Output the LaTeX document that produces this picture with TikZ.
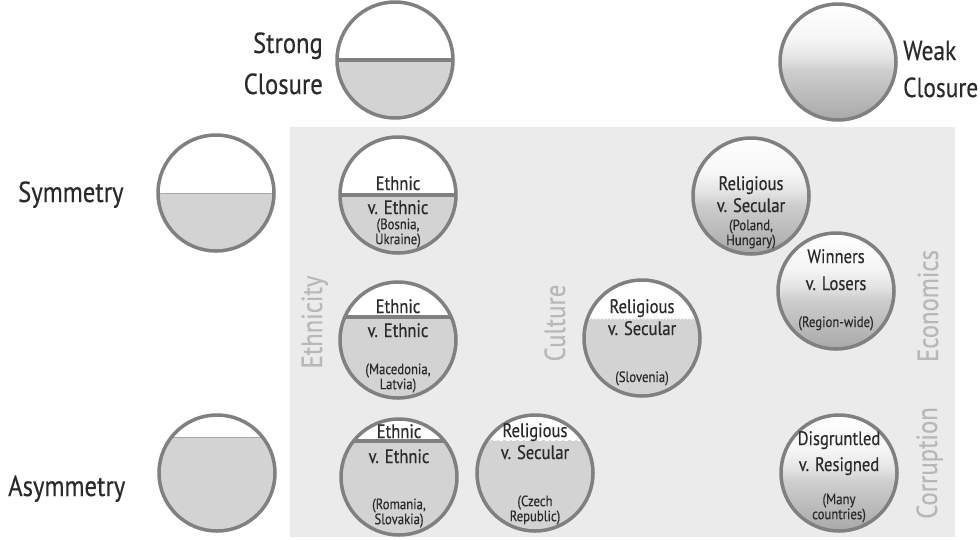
\documentclass[tikz,border=0pt]{standalone}
\usepackage{fontspec}
\setmainfont{PT Sans}[FakeStretch=0.85, FakeBold=0.35]
\usetikzlibrary{decorations.pathmorphing}
\definecolor{bgcol}{HTML}{EBEBEB}
\definecolor{ringcol}{HTML}{808080}
\definecolor{fillgray}{HTML}{D3D3D3}
\definecolor{thincol}{HTML}{A8A8A8}
\definecolor{txtcol}{HTML}{2A2A2A}
\definecolor{axiscol}{HTML}{B8B8B8}
\definecolor{shdark}{HTML}{A9A9A9}
\definecolor{shmid}{HTML}{CDCDCD}
\definecolor{shlight}{HTML}{E4E4E4}
\definecolor{shtop}{HTML}{F6F6F6}
\pgfdeclareverticalshading{closureshade}{100bp}{color(0bp)=(shdark); color(25bp)=(shdark); color(46bp)=(shmid); color(52bp)=(shlight); color(60bp)=(shtop); color(75bp)=(white); color(100bp)=(white)}
\newcommand\bigf{\fontsize{29}{34}\selectfont}
\newcommand\weakf{\fontsize{27.5}{32}\selectfont}
\newcommand\midf{\fontsize{19.5}{22}\selectfont}
\newcommand\smallf{\fontsize{15}{13.5}\selectfont}
\tikzset{
  ring/.style={circle, draw=ringcol, line width=3.5pt, minimum size=116pt, inner sep=0pt},
  thickdiv/.style={draw=ringcol, line width=3.5pt},
  thindiv/.style={draw=thincol, line width=0.9pt},
  zigdiv/.style={draw=white, line width=1.2pt, decorate, decoration={zigzag, segment length=3.5pt, amplitude=0.9pt}},
  dashdiv/.style={draw=white, line width=1.6pt, dash pattern=on 4pt off 2.5pt},
  biglab/.style={text=txtcol, font=\bigf, inner sep=0pt},
  axislab/.style={text=axiscol, font=\bigf, inner sep=0pt, rotate=90, anchor=base},
  ml/.style={text=txtcol, font=\midf, inner sep=0pt, anchor=base},
  sl/.style={text=txtcol, font=\smallf, inner sep=0pt, anchor=base},
  sl2/.style={text=txtcol, font=\smallf, inner sep=0pt, align=center, anchor=center},
}
% name, cx, cy, boundary y, divider style
\newcommand\splitcirc[5]{%
  \begin{scope}
    \clip (#2,#3) circle (58pt);
    \fill[white] (#2-60,#3-60) rectangle (#2+60,#3+60);
    \fill[fillgray] (#2-60,#4) rectangle (#2+60,#3+60);
    \path[#5] (#2-62,#4) -- (#2+62,#4);
  \end{scope}
  \node[ring] (#1) at (#2,#3) {};}
\newcommand\gradcirc[3]{%
  \shade[shading=closureshade] (#2,#3) circle (58pt);
  \node[ring] (#1) at (#2,#3) {};}
\begin{document}
\begin{tikzpicture}[x=1pt,y=-1pt]
\useasboundingbox (0,0) rectangle (980,539);
\fill[white] (0,0) rectangle (980,539);
\fill[bgcol] (290,127) rectangle (955,537);

% legend circles
\splitcirc{strong}{395}{60}{60}{thickdiv}
\gradcirc{weak}{838}{62}
\splitcirc{sym}{216}{193}{193}{thindiv}
\splitcirc{asym}{217}{473}{437}{thindiv}

\node[biglab, anchor=base east] (strongA) at (323,53) {Strong};
\node[biglab, anchor=base east] (strongB) at (323,94) {Closure};
\node[biglab, font=\weakf, anchor=base west] (weakA) at (903,60) {Weak};
\node[biglab, font=\weakf, anchor=base west] (weakB) at (903,97) {Closure};
\node[biglab, anchor=base west] (symlab) at (18,202) {Symmetry};
\node[biglab, anchor=base west] (asymlab) at (8,496) {Asymmetry};

% axis labels
\node[axislab] (ethn) at (322,322) {Ethnicity};
\node[axislab] (cult) at (565,323) {Culture};
\node[axislab] (econ) at (938,306) {Economics};
\node[axislab] (corr) at (937,463) {Corruption};

% Bosnia
\splitcirc{bosnia}{398}{195}{195}{thickdiv}
\node[ml] (b1) at (398,190) {Ethnic};
\node[ml] (b2) at (398,214) {v. Ethnic};
\node[sl2] (b3) at (398,233) {(Bosnia,\\Ukraine)};

% Macedonia
\splitcirc{maced}{398}{340}{317}{thickdiv}
\node[ml] (m1) at (398,313) {Ethnic};
\node[ml] (m2) at (398,337) {v. Ethnic};
\node[sl2] (m3) at (398,378) {(Macedonia,\\Latvia)};

% Romania
\splitcirc{roman}{399}{477}{441}{thickdiv}
\node[ml] (r1) at (399,438) {Ethnic};
\node[ml] (r2) at (399,463) {v. Ethnic};
\node[sl2] (r3) at (399,513) {(Romania,\\Slovakia)};

% Czech
\splitcirc{czech}{535}{473}{440}{dashdiv}
\node[ml] (c1) at (535,437) {Religious};
\node[ml] (c2) at (535,459) {v. Secular};
\node[sl2] (c3) at (535,510) {(Czech\\Republic)};

% Slovenia
\splitcirc{slov}{642}{338}{318}{zigdiv}
\node[ml] (s1) at (642,313) {Religious};
\node[ml] (s2) at (642,335) {v. Secular};
\node[sl] (s3) at (642,382) {(Slovenia)};

% Poland
\gradcirc{poland}{751}{196}
\node[ml] (p1) at (751,190) {Religious};
\node[ml] (p2) at (751,212) {v. Secular};
\node[sl2] (p3) at (751,234) {(Poland,\\Hungary)};

% Winners
\gradcirc{winners}{836}{291}
\node[ml] (w1) at (836,263) {Winners};
\node[ml] (w2) at (836,290) {v. Losers};
\node[sl] (w3) at (836,327) {(Region-wide)};

% Disgruntled
\gradcirc{disgr}{839}{473}
\node[ml] (d1) at (839,445) {Disgruntled};
\node[ml] (d2) at (839,471) {v. Resigned};
\node[sl2] (d3) at (839,508) {(Many\\countries)};
\end{tikzpicture}
\end{document}
